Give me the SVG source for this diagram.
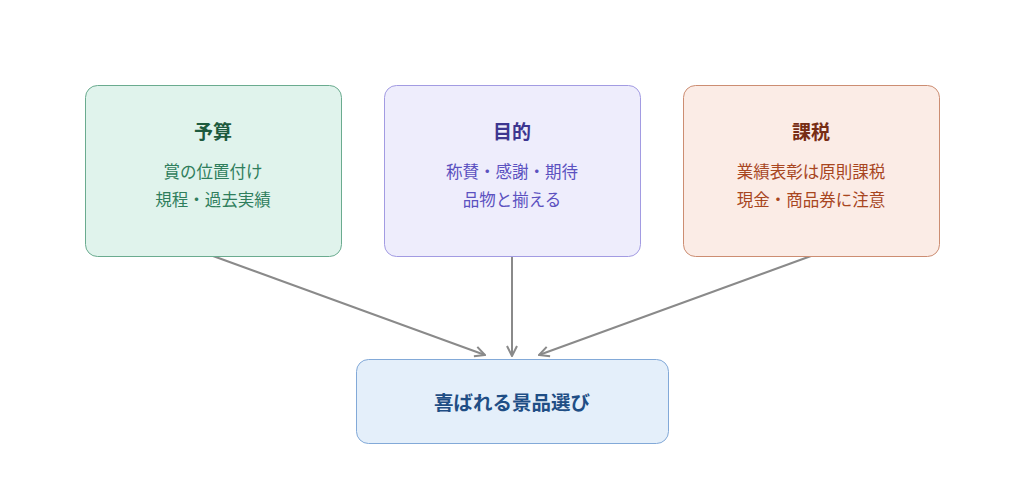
<svg xmlns="http://www.w3.org/2000/svg" width="1024" height="484" viewBox="0 0 1024 484">
<style>
text{font-family:"Noto Sans CJK JP","Noto Sans",sans-serif;text-anchor:middle}
.t{font-size:19px;font-weight:bold}
.s{font-size:16.5px}
.e{fill:none;stroke:#8a8a8a;stroke-width:2}
</style>
<defs>
<marker id="ah" viewBox="0 0 12 12" refX="11" refY="6" markerWidth="12" markerHeight="12" markerUnits="userSpaceOnUse" orient="auto">
<path d="M1,1 L11,6 L1,11" fill="none" stroke="#8a8a8a" stroke-width="2"/>
</marker>
</defs>
<rect width="1024" height="484" fill="#ffffff"/>
<g id="connectors">
<line class="e" x1="213" y1="256" x2="485" y2="355" marker-end="url(#ah)"/>
<line class="e" x1="512" y1="256" x2="512" y2="356" marker-end="url(#ah)"/>
<line class="e" x1="811" y1="256" x2="539" y2="355" marker-end="url(#ah)"/>
</g>
<g id="budget">
<rect x="85.5" y="85.5" width="256" height="171" rx="12" fill="#e0f3ec" stroke="#6aab8f"/>
<text class="t" x="213" y="139" fill="#1d5a3e">予算</text>
<text class="s" x="213" y="178" fill="#2f7e5c">賞の位置付け</text>
<text class="s" x="213" y="206" fill="#2f7e5c">規程・過去実績</text>
</g>
<g id="purpose">
<rect x="384.5" y="85.5" width="256" height="171" rx="12" fill="#eeedfc" stroke="#a29be2"/>
<text class="t" x="512" y="139" fill="#3d3690">目的</text>
<text class="s" x="512" y="178" fill="#5b51c0">称賛・感謝・期待</text>
<text class="s" x="512" y="206" fill="#5b51c0">品物と揃える</text>
</g>
<g id="tax">
<rect x="683.5" y="85.5" width="256" height="171" rx="12" fill="#fbece6" stroke="#cc8d72"/>
<text class="t" x="811" y="139" fill="#772d14">課税</text>
<text class="s" x="811" y="178" fill="#a8461f">業績表彰は原則課税</text>
<text class="s" x="811" y="206" fill="#a8461f">現金・商品券に注意</text>
</g>
<g id="goal">
<rect x="356.5" y="359.5" width="312" height="84" rx="12" fill="#e4effa" stroke="#82a9d8"/>
<text class="t" x="512" y="410" fill="#1f4e85" style="font-size:19.5px">喜ばれる景品選び</text>
</g>
</svg>
